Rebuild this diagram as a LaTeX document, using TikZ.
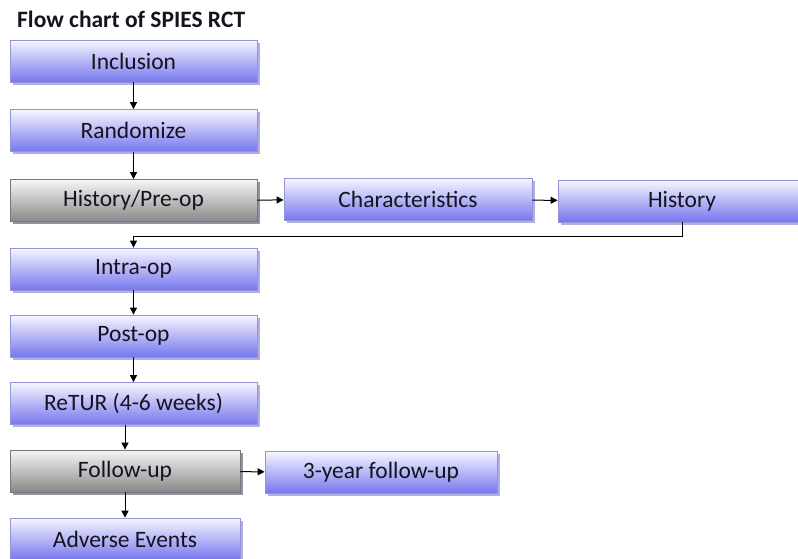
\documentclass[tikz,border=0pt]{standalone}
\usepackage{fontspec}
\setmainfont{Carlito}
\usetikzlibrary{arrows.meta,shadows,calc}
\definecolor{btop}{HTML}{F6F6FF}
\definecolor{bbot}{HTML}{7676EE}
\definecolor{bdraw}{HTML}{9494D6}
\definecolor{gtop}{HTML}{F6F6F6}
\definecolor{gbot}{HTML}{888888}
\definecolor{gdraw}{HTML}{777777}
\definecolor{txt}{HTML}{141420}
\tikzset{
  bluebox/.style={draw=bdraw, line width=0.8pt, top color=btop, bottom color=bbot,
    minimum height=42pt, minimum width=247pt, inner sep=0pt, text=txt,
    font=\fontsize{23.5}{26}\selectfont,
    drop shadow={shadow xshift=2.5pt, shadow yshift=-2.5pt, fill=bbot!70!gray, opacity=0.6}},
  greybox/.style={bluebox, draw=gdraw, top color=gtop, bottom color=gbot,
    drop shadow={shadow xshift=2.5pt, shadow yshift=-2.5pt, fill=gray, opacity=0.6}},
  arr/.style={draw=black, line width=1pt, -{Triangle[length=7pt,width=7pt]}},
}
\begin{document}
\begin{tikzpicture}[x=1pt,y=-1pt]
\useasboundingbox (0,0) rectangle (798,558);
\node[anchor=base west, font=\bfseries\fontsize{23.5}{26}\selectfont, text=txt, inner sep=0pt] (title) at (17,27) {Flow chart of SPIES RCT};
\node[bluebox] (incl) at (133.5,61) {Inclusion};
\node[bluebox] (rand) at (133.5,130.5) {Randomize};
\node[greybox] (pre) at (133.5,200.5) {History/Pre-op};
\node[bluebox, minimum width=248pt] (char) at (408,199.5) {Characteristics};
\node[bluebox, minimum width=248pt] (hist) at (682,201) {History};
\node[bluebox] (intra) at (133.5,269) {Intra-op};
\node[bluebox] (post) at (133.5,336) {Post-op};
\node[bluebox] (retur) at (133.5,403.5) {ReTUR (4-6 weeks)};
\node[greybox, minimum width=230pt] (fol) at (125,471) {Follow-up};
\node[bluebox, minimum width=232pt] (three) at (381,472.5) {3-year follow-up};
\node[bluebox, minimum width=230pt] (adv) at (125,539) {Adverse Events};
\draw[arr] (incl) -- (rand);
\draw[arr] (rand) -- (pre);
\draw[arr] (pre) -- (char);
\draw[arr] (char) -- (hist);
\draw[arr] (hist.south) -- ++(0,14) -| (intra.north);
\draw[arr] (intra) -- (post);
\draw[arr] (post) -- (retur);
\draw[arr] (retur.south -| fol.north) -- (fol.north);
\draw[arr] (fol) -- (three);
\draw[arr] (fol) -- (adv);
\end{tikzpicture}
\end{document}
